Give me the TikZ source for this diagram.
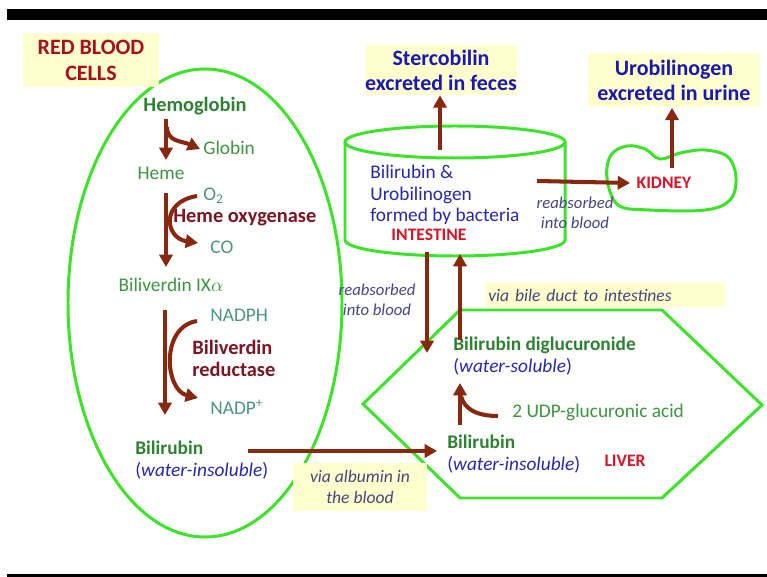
\documentclass[tikz,border=0pt]{standalone}
\usepackage{fontspec}
\setmainfont{Carlito}
\usetikzlibrary{arrows.meta,positioning}
\definecolor{rbcgreen}{RGB}{60,228,40}
\definecolor{darkgrn}{RGB}{45,130,50}
\definecolor{midgrn}{RGB}{60,150,65}
\definecolor{cofgrn}{RGB}{75,150,125}
\definecolor{arrbrown}{RGB}{135,40,15}
\definecolor{enzred}{RGB}{125,20,35}
\definecolor{rbcred}{RGB}{165,15,30}
\definecolor{orgred}{RGB}{215,20,40}
\definecolor{txtblue}{RGB}{40,40,170}
\definecolor{headblue}{RGB}{25,25,175}
\definecolor{labblue}{RGB}{70,70,130}
\definecolor{boxyel}{RGB}{255,255,205}

\begin{document}
\begin{tikzpicture}[x=0.02cm, y=-0.02cm, font=\fontsize{11}{12.5}\selectfont,
  every node/.style={inner sep=0pt},
  flow/.style={draw=arrbrown, line width=2.3pt, -{Triangle[width=7.5pt,length=7pt]}},
  curl/.style={draw=arrbrown, line width=2.3pt},
  organ/.style={draw=rbcgreen, line width=1.7pt},
  note/.style={fill=boxyel},
  head/.style={font=\fontsize{12.5}{14.2}\selectfont\bfseries, text=headblue, align=center},
  enz/.style={font=\fontsize{11.6}{12.5}\selectfont\bfseries, text=enzred},
  reab/.style={font=\fontsize{9.5}{11.3}\selectfont\itshape, text=labblue, align=center}]
\useasboundingbox[fill=white] (0,0) rectangle (767,577);
\fill[black] (7,9) rectangle (767,20);
\fill[black] (7,574) rectangle (767,577);

% red blood cell
\draw[organ] (205,303) ellipse [x radius=137, y radius=234];
\node[note, minimum width=2.72cm, minimum height=1.1cm, align=center, text=rbcred,
  font=\fontsize{12.5}{14.7}\selectfont\bfseries] (rbc) at (91,60) {RED BLOOD\\CELLS};
\node[font=\fontsize{11.6}{12.5}\selectfont\bfseries, text=darkgrn] (hb) at (195,106) {Hemoglobin};
\node[text=midgrn, anchor=west] (globin) at (203,148) {Globin};
\node[text=midgrn] (heme) at (161,173) {Heme};
\node[text=cofgrn, anchor=west] (otwo) at (203,196) {O\textsubscript{2}};
\node[enz, anchor=west] (hox) at (173,218) {Heme oxygenase};
\node[text=cofgrn, anchor=west] (co) at (210,247) {CO};
\node[text=midgrn] (bv) at (171,285) {Biliverdin IX$\alpha$};
\node[text=cofgrn, anchor=west] (nadph) at (210,315) {NADPH};
\node[enz, anchor=west, align=left] (bvr) at (192,358) {Biliverdin\\reductase};
\node[text=cofgrn, anchor=west] (nadp) at (210,407) {NADP\textsuperscript{+}};
\node[anchor=west, align=left] (brbc) at (135,460)
  {\textcolor{darkgrn}{\bfseries Bilirubin}\\\textcolor{txtblue}{(\textit{water-insoluble})}};

% spine arrows
\coordinate (s1) at (166,119); \coordinate (s2) at (166,160);
\coordinate (s3) at (166,193); \coordinate (s4) at (166,267);
\coordinate (s5) at (165,310); \coordinate (s6) at (165,415);
\coordinate (g1) at (200,149); \coordinate (o1) at (197,196);
\coordinate (c1) at (198,243); \coordinate (n1) at (197,321);
\coordinate (n2) at (198,398);
\draw[flow] (s1) -- (s2);
\draw[flow] (167,127) .. controls (167,142) and (182,141) .. (g1);
\draw[flow] (s3) -- (s4);
\draw[flow] (o1) .. controls (160,202) and (165,238) .. (c1);
\draw[flow] (s5) -- (s6);
\draw[flow] (n1) .. controls (160,327) and (165,390) .. (n2);

% intestine
\draw[organ] (455,142) ellipse [x radius=110, y radius=16];
\draw[organ] (345,142) -- (345,240) arc [start angle=180, end angle=0, x radius=110, y radius=16] -- (565,142);
\node[text=txtblue, anchor=west, align=left, font=\fontsize{11}{12.2}\selectfont] (gut) at (370,195)
  {Bilirubin \&\\Urobilinogen\\formed by bacteria};
\node[font=\bfseries, text=orgred] (gutlbl) at (429,235) {INTESTINE};
\node[note, head, minimum width=3.04cm, minimum height=1cm] (sterco) at (441,70)
  {Stercobilin\\excreted in feces};
\draw[flow] (440,150) -- (sterco.south -| 440,0);

% kidney
\draw[organ] plot[smooth cycle, tension=0.6] coordinates
  {(607,178) (611,155) (627,146) (645,149) (660,159) (680,153) (705,150) (728,157)
   (736,178) (730,200) (705,210) (650,210) (618,205)};
\node[font=\bfseries, text=orgred] (kidlbl) at (664,183) {KIDNEY};
\node[note, head, minimum width=3.44cm, minimum height=1.1cm] (urobil) at (674,80)
  {Urobilinogen\\excreted in urine};
\draw[flow] (537,181) -- (kidlbl.west -| 630,0);
\draw[flow] (672,168) -- (urobil.south -| 672,0);
\node[reab] (reabR) at (575,213) {reabsorbed\\into blood};

% liver
\draw[organ] (363,404) -- (460,310) -- (662,310) -- (762,405) -- (662,498) -- (460,498) -- cycle;
\node[note, anchor=west, text width=4.8cm, minimum height=0.5cm, align=left,
  font=\itshape, text=labblue] (bile) at (485,295) {\,via bile duct to intestines};
\node[anchor=west, align=left] (bdg) at (453,356)
  {\textcolor{darkgrn}{\bfseries Bilirubin diglucuronide}\\\textcolor{txtblue}{(\textit{water-soluble})}};
\node[text=midgrn, anchor=west] (udp) at (512,412) {2 UDP-glucuronic acid};
\node[anchor=west, align=left] (bliv) at (447,454)
  {\textcolor{darkgrn}{\bfseries Bilirubin}\\\textcolor{txtblue}{(\textit{water-insoluble})}};
\node[font=\bfseries, text=orgred] (livlbl) at (625,461) {LIVER};
\draw[flow] (460,425) -- (460,383);
\draw[curl] (498,416) .. controls (475,416) and (464,408) .. (461,396);

% transport between organs
\node[note, minimum width=2.68cm, minimum height=0.98cm, align=center, font=\itshape,
  text=labblue] (albumin) at (360,487) {via albumin in\\the blood};
\draw[flow] (248,451) -- (437,451);
\node[reab] (reabL) at (377,300) {reabsorbed\\into blood};
\draw[flow] (427,252) -- (427,353);
\draw[flow] (460,340) -- (460,254);
\end{tikzpicture}
\end{document}
